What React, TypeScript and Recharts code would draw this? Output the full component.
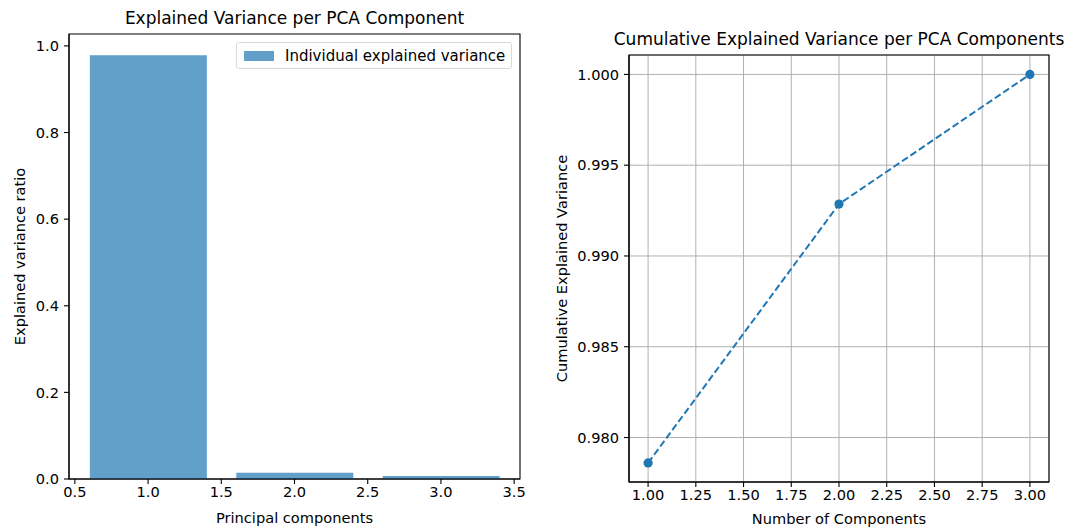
import {
  ComposedChart,
  LineChart,
  Bar,
  Line,
  XAxis,
  YAxis,
  CartesianGrid,
  ReferenceArea,
} from 'recharts'

const components = [1, 2, 3]
const explainedRatio = [0.9786, 0.0143, 0.0071]
const cumulativeRatio = [0.9786, 0.99286, 1.0]

const barTicks = [0.5, 1.0, 1.5, 2.0, 2.5, 3.0, 3.5]
const barYTicks = [0.0, 0.2, 0.4, 0.6, 0.8, 1.0]
const lineXTicks = [1.0, 1.25, 1.5, 1.75, 2.0, 2.25, 2.5, 2.75, 3.0]
const lineYTicks = [0.98, 0.985, 0.99, 0.995, 1.0]

const barData = components.map((c, i) => ({ pc: c, ratio: explainedRatio[i] }))
const lineData = components.map((c, i) => ({ n: c, cum: cumulativeRatio[i] }))

const FONT = '"DejaVu Sans", sans-serif'
const C0 = '#1f77b4'
const TICK_FS = 14.6
const tick = { fill: '#000', fontSize: TICK_FS, fontFamily: FONT }
const axisLine = { stroke: '#000', strokeWidth: 1.1 }
const labelStyle = { fill: '#000', fontSize: TICK_FS, fontFamily: FONT }

const fmt1 = (v: number) => v.toFixed(1)
const fmt2 = (v: number) => v.toFixed(2)
const fmt3 = (v: number) => v.toFixed(3)

function VarianceBars() {
  const width = 540
  const height = 532
  const plotLeft = 69
  const plotRight = 520
  const xDomain: [number, number] = [0.46, 3.54]
  const yDomain: [number, number] = [0, 1.0275]
  const barSize = Math.round((0.8 * (plotRight - plotLeft)) / (xDomain[1] - xDomain[0]))
  return (
    <div style={{ position: 'absolute', left: 0, top: 0, width, height }}>
      <div
        style={{
          position: 'absolute',
          left: plotLeft - 50,
          width: plotRight - plotLeft + 100,
          top: 8,
          textAlign: 'center',
          fontFamily: FONT,
          fontSize: 17,
          color: '#000',
        }}
      >
        Explained Variance per PCA Component
      </div>
      <ComposedChart
        width={width}
        height={height}
        data={barData}
        margin={{ top: 34, right: width - plotRight, bottom: 0, left: 0 }}
      >
        <XAxis
          dataKey="pc"
          type="number"
          domain={xDomain}
          ticks={barTicks}
          tickFormatter={fmt1}
          allowDataOverflow
          height={53}
          tick={tick}
          tickSize={5}
          tickMargin={3}
          tickLine={axisLine}
          axisLine={axisLine}
          label={{ value: 'Principal components', position: 'center', dy: 12, ...labelStyle }}
        />
        <YAxis
          type="number"
          domain={yDomain}
          ticks={barYTicks}
          tickFormatter={fmt1}
          allowDataOverflow
          width={plotLeft}
          tick={tick}
          tickSize={5}
          tickMargin={5}
          tickLine={axisLine}
          axisLine={axisLine}
          label={{ value: 'Explained variance ratio', angle: -90, position: 'center', dx: -15, ...labelStyle }}
        />
        <Bar dataKey="ratio" fill={C0} fillOpacity={0.7} barSize={barSize} isAnimationActive={false} />
        <ReferenceArea
          x1={xDomain[0]}
          x2={xDomain[1]}
          y1={yDomain[0]}
          y2={yDomain[1]}
          fill="none"
          fillOpacity={0}
          stroke="#000"
          strokeWidth={1.1}
          ifOverflow="visible"
        />
      </ComposedChart>
      <div
        style={{
          position: 'absolute',
          left: 236,
          top: 42,
          width: 276,
          height: 27,
          boxSizing: 'border-box',
          border: '1px solid #d9d9d9',
          borderRadius: 3,
          background: 'rgba(255,255,255,0.8)',
          display: 'flex',
          alignItems: 'center',
          fontFamily: FONT,
          fontSize: 15,
          color: '#000',
          whiteSpace: 'nowrap',
        }}
      >
        <span style={{ display: 'inline-block', width: 30, height: 10, marginLeft: 7, marginRight: 11, background: C0, opacity: 0.7 }} />
        Individual explained variance
      </div>
    </div>
  )
}

function CumulativeLine() {
  const width = 536
  const height = 532
  const plotLeft = 89
  const plotRight = 509
  const xDomain: [number, number] = [0.9, 3.1]
  const yDomain: [number, number] = [0.97755, 1.00107]
  return (
    <div style={{ position: 'absolute', left: 540, top: 0, width, height }}>
      <div
        style={{
          position: 'absolute',
          left: plotLeft - 100,
          width: plotRight - plotLeft + 200,
          top: 29,
          textAlign: 'center',
          fontFamily: FONT,
          fontSize: 17,
          color: '#000',
          whiteSpace: 'nowrap',
        }}
      >
        Cumulative Explained Variance per PCA Components
      </div>
      <LineChart
        width={width}
        height={height}
        data={lineData}
        margin={{ top: 55, right: width - plotRight, bottom: 0, left: 0 }}
      >
        <CartesianGrid stroke="#b0b0b0" strokeWidth={1} />
        <XAxis
          dataKey="n"
          type="number"
          domain={xDomain}
          ticks={lineXTicks}
          tickFormatter={fmt2}
          allowDataOverflow
          height={50}
          tick={tick}
          tickSize={5}
          tickMargin={3}
          tickLine={axisLine}
          axisLine={axisLine}
          label={{ value: 'Number of Components', position: 'center', dy: 12, ...labelStyle }}
        />
        <YAxis
          type="number"
          domain={yDomain}
          ticks={lineYTicks}
          tickFormatter={fmt3}
          allowDataOverflow
          width={plotLeft}
          tick={tick}
          tickSize={5}
          tickMargin={5}
          tickLine={axisLine}
          axisLine={axisLine}
          label={{ value: 'Cumulative Explained Variance', angle: -90, position: 'center', dx: -23, ...labelStyle }}
        />
        <ReferenceArea
          x1={xDomain[0]}
          x2={xDomain[1]}
          y1={yDomain[0]}
          y2={yDomain[1]}
          fill="none"
          fillOpacity={0}
          stroke="#000"
          strokeWidth={1.1}
          ifOverflow="visible"
        />
        <Line
          type="linear"
          dataKey="cum"
          stroke={C0}
          strokeWidth={2}
          strokeDasharray="7 3.2"
          dot={{ r: 4.6, fill: C0, stroke: C0, strokeWidth: 0, strokeDasharray: '' }}
          activeDot={false}
          isAnimationActive={false}
        />
      </LineChart>
    </div>
  )
}

export default function App() {
  return (
    <div style={{ position: 'absolute', left: 0, top: 0, width: 1076, height: 532, background: '#fff' }}>
      <VarianceBars />
      <CumulativeLine />
    </div>
  )
}
